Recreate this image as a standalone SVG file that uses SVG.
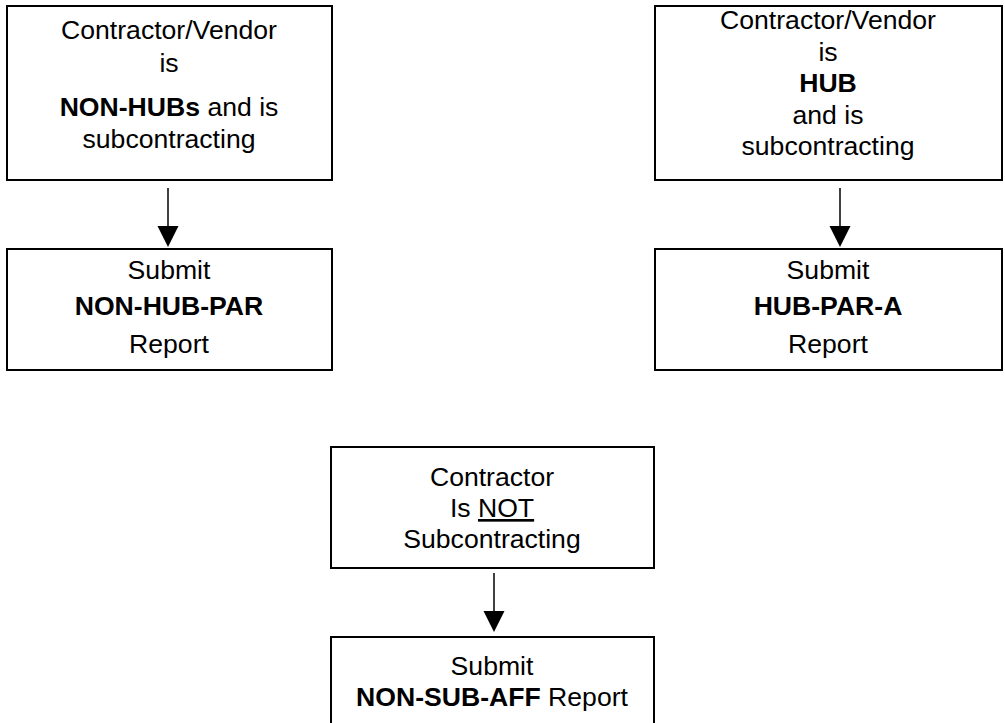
<svg xmlns="http://www.w3.org/2000/svg" width="1005" height="723" viewBox="0 0 1005 723">
<style>
.box{fill:#fff;stroke:#000;stroke-width:2}
text{font-family:"Liberation Sans",Arial,sans-serif;font-size:26.6px;fill:#000;text-anchor:middle}
.b{font-weight:bold}
.conn{stroke:#000;stroke-width:1.5;fill:none}
.head{fill:#000}
</style>
<rect width="1005" height="723" fill="#fff"/>
<g id="n1">
<rect class="box" x="7" y="6" width="325" height="174"/>
<text x="169" y="39">Contractor/Vendor</text>
<text x="169" y="72">is</text>
<text x="169" y="116"><tspan class="b">NON-HUBs</tspan> and is</text>
<text x="169" y="148">subcontracting</text>
</g>
<g id="n2">
<rect class="box" x="655" y="6" width="347" height="174"/>
<text x="828" y="29">Contractor/Vendor</text>
<text x="828" y="61">is</text>
<text x="828" y="92" class="b">HUB</text>
<text x="828" y="124">and is</text>
<text x="828" y="155">subcontracting</text>
</g>
<g id="n3">
<rect class="box" x="7" y="249" width="325" height="121"/>
<text x="169" y="279">Submit</text>
<text x="169" y="315" class="b">NON-HUB-PAR</text>
<text x="169" y="353">Report</text>
</g>
<g id="n4">
<rect class="box" x="655" y="249" width="347" height="121"/>
<text x="828" y="279">Submit</text>
<text x="828" y="315" class="b">HUB-PAR-A</text>
<text x="828" y="353">Report</text>
</g>
<g id="n5">
<rect class="box" x="331" y="447" width="323" height="121"/>
<text x="492" y="486">Contractor</text>
<text x="492" y="517">Is <tspan text-decoration="underline">NOT</tspan></text>
<text x="492" y="548">Subcontracting</text>
</g>
<g id="n6">
<rect class="box" x="331" y="637" width="323" height="100"/>
<text x="492" y="675">Submit</text>
<text x="492" y="706"><tspan class="b">NON-SUB-AFF</tspan> Report</text>
</g>
<g id="connectors">
<line class="conn" x1="168" y1="188" x2="168" y2="228"/>
<polygon class="head" points="157.5,226 178.5,226 168,247"/>
<line class="conn" x1="840" y1="188" x2="840" y2="228"/>
<polygon class="head" points="829.5,226 850.5,226 840,247"/>
<line class="conn" x1="494" y1="573" x2="494" y2="613"/>
<polygon class="head" points="483.5,611 504.5,611 494,632"/>
</g>
</svg>
